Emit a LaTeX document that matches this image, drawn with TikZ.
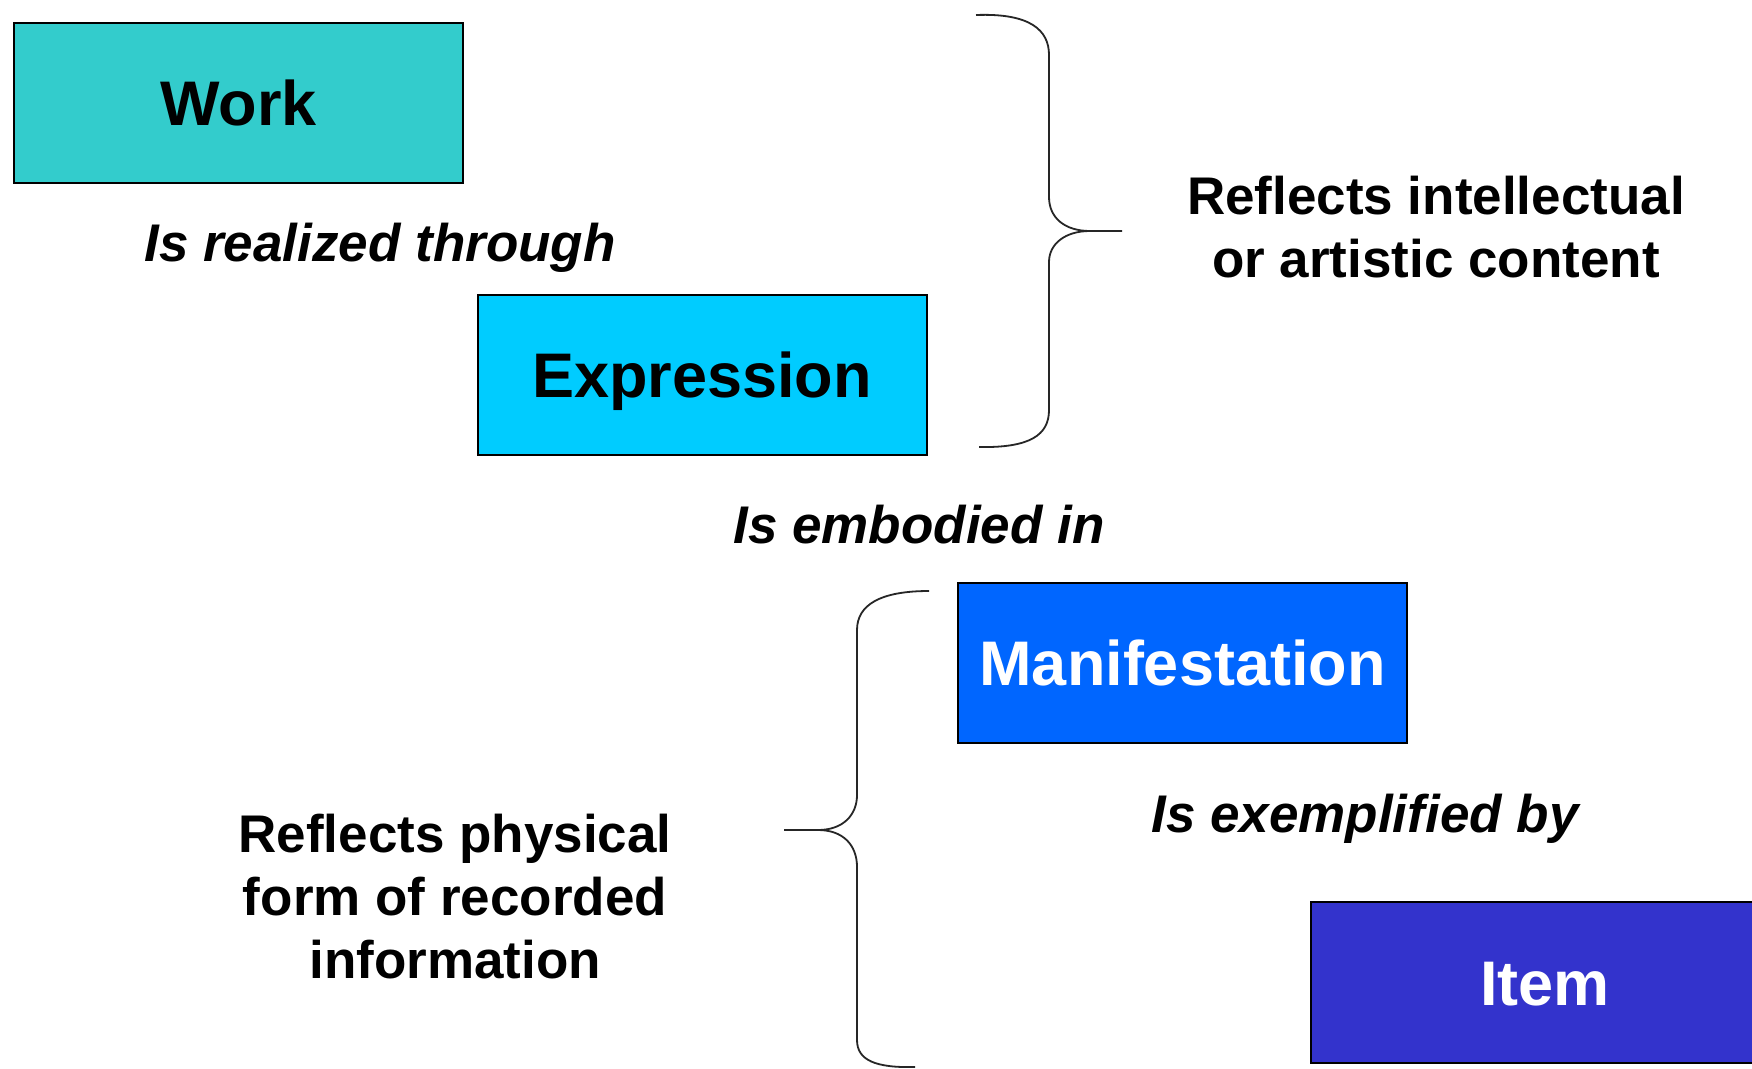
\documentclass[tikz,border=0pt]{standalone}
\usepackage{fontspec}
\setmainfont{Liberation Sans}
\definecolor{workc}{HTML}{33CCCC}
\definecolor{exprc}{HTML}{00CCFF}
\definecolor{manic}{HTML}{0066FF}
\definecolor{itemc}{HTML}{3333CC}
\begin{document}
\begin{tikzpicture}[x=1pt,y=-1pt,
  entity/.style={draw=black, line width=2pt, rectangle, minimum width=449pt, minimum height=160pt,
    inner sep=0pt, text height=45pt, text depth=0pt, font=\fontsize{63}{70}\selectfont\bfseries},
  rel/.style={anchor=base, inner sep=0pt, font=\fontsize{53}{63}\selectfont\bfseries\itshape},
  note/.style={anchor=base, inner sep=0pt, align=center, font=\fontsize{53}{63}\selectfont\bfseries},
  bracestroke/.style={draw=black!85, line width=1.8pt}]
\useasboundingbox (0,0) rectangle (1752,1068);
\clip (0,0) rectangle (1752,1068);
\fill[white] (0,0) rectangle (1752,1068);

\node[entity, fill=workc] (work) at (238.5,103) {Work};
\node[entity, fill=exprc] (expr) at (702,375) {Expression};
\node[entity, fill=manic, text=white] (mani) at (1182.5,663) {Manifestation};
\node[entity, fill=itemc, text=white, minimum width=468pt, minimum height=161pt] (item) at (1545,982.5) {Item};

\node[rel] (realized) at (380,261) {Is realized through};
\node[rel] (embodied) at (919,543) {Is embodied in};
\node[rel] (exemplified) at (1365,832) {Is exemplified by};

\node[note] (intel) at (1436,277) {Reflects intellectual\\or artistic content};
\node[note] (phys) at (455,978) {Reflects physical\\form of recorded\\information};

% top brace
\draw[bracestroke] (976,15) .. controls (1030,13) and (1049,30) .. (1049,55) -- (1049,197)
  .. controls (1049,218) and (1065,231) .. (1090,231) -- (1122,231);
\draw[bracestroke] (1090,231) .. controls (1065,231) and (1049,244) .. (1049,262) -- (1049,410)
  .. controls (1049,435) and (1030,448) .. (979,447);
% bottom brace
\draw[bracestroke] (929,591) .. controls (880,591) and (857,605) .. (857,630) -- (857,795)
  .. controls (857,815) and (843,830) .. (818,830) -- (784,830);
\draw[bracestroke] (818,830) .. controls (843,830) and (857,845) .. (857,867) -- (857,1040)
  .. controls (857,1060) and (875,1068) .. (915,1067);
\end{tikzpicture}
\end{document}
